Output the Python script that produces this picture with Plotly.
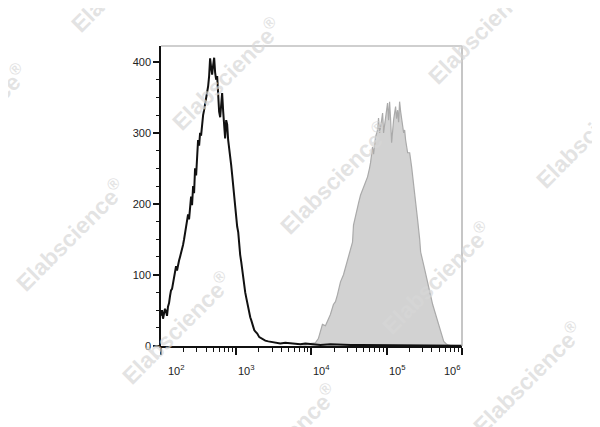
import plotly.graph_objects as go

# ---- data (x given as log10 of fluorescence intensity) ----
black_log = [2.000, 2.013, 2.027, 2.040, 2.053, 2.067, 2.080, 2.093, 2.107, 2.120, 2.133, 2.147, 2.160, 2.173, 2.187,
             2.200, 2.213, 2.227, 2.240, 2.253, 2.267, 2.280, 2.293, 2.307, 2.320, 2.333, 2.347, 2.360, 2.373, 2.387,
             2.400, 2.413, 2.427, 2.440, 2.453, 2.467, 2.480, 2.493, 2.507, 2.520, 2.533, 2.547, 2.560, 2.573, 2.587,
             2.600, 2.613, 2.627, 2.640, 2.653, 2.667, 2.680, 2.693, 2.707, 2.720, 2.733, 2.747, 2.760, 2.773, 2.787,
             2.800, 2.813, 2.827, 2.840, 2.853, 2.867, 2.880, 2.893, 2.907, 2.920, 2.933, 2.947, 2.960, 2.973, 2.987,
             3.000, 3.013, 3.027, 3.040, 3.053, 3.067, 3.080, 3.093, 3.107, 3.120, 3.133, 3.147, 3.160, 3.173, 3.187,
             3.200, 3.213, 3.227, 3.240, 3.253, 3.280, 3.307, 3.333, 3.360, 3.387, 3.427, 3.467, 3.520, 3.587, 3.653,
             3.720, 3.787, 3.853, 3.920, 3.987, 4.053, 4.120, 4.253, 4.387, 4.520, 4.653, 4.787, 4.920, 5.187, 5.500,
             6.000]
black_counts = [42, 50, 38, 45, 52, 48, 42, 55, 60, 70, 78, 80, 88, 92, 100,
                112, 106, 115, 120, 125, 130, 135, 142, 150, 158, 165, 175, 185, 178, 200,
                210, 198, 225, 215, 250, 240, 275, 290, 282, 300, 296, 318, 325, 332, 340,
                348, 355, 366, 380, 405, 392, 382, 395, 406, 385, 375, 380, 350, 330, 322,
                345, 356, 330, 310, 292, 318, 312, 290, 280, 266, 255, 240, 225, 212, 200,
                188, 168, 160, 140, 128, 118, 105, 96, 88, 75, 68, 60, 52, 45, 40,
                36, 30, 25, 22, 20, 17, 12, 10, 8, 7, 6, 5, 4, 3, 4,
                3, 3, 2, 3, 2, 2, 1, 2, 1, 1, 1, 1, 0, 1, 0,
                0]

gray_log = [3.853, 3.920, 3.987, 4.053, 4.093, 4.120, 4.147, 4.187, 4.213, 4.253, 4.293, 4.320, 4.347, 4.387, 4.427,
            4.453, 4.480, 4.520, 4.547, 4.560, 4.587, 4.627, 4.653, 4.693, 4.720, 4.747, 4.773, 4.787, 4.813, 4.827,
            4.853, 4.880, 4.893, 4.907, 4.920, 4.947, 4.960, 4.987, 5.013, 5.027, 5.040, 5.053, 5.067, 5.093, 5.120,
            5.133, 5.147, 5.160, 5.173, 5.187, 5.200, 5.227, 5.240, 5.253, 5.280, 5.307, 5.333, 5.360, 5.387, 5.413,
            5.440, 5.453, 5.493, 5.520, 5.547, 5.587, 5.613, 5.653, 5.680, 5.720, 5.760, 5.787, 5.813, 5.853]
gray_counts = [2, 1, 3, 4, 10, 22, 30, 28, 34, 44, 58, 62, 72, 90, 100,
               110, 118, 132, 146, 170, 184, 201, 212, 224, 232, 238, 250, 258, 280, 270,
               294, 304, 321, 300, 308, 328, 300, 318, 342, 318, 344, 320, 286, 318, 337,
               320, 332, 315, 344, 330, 322, 300, 304, 290, 272, 272, 252, 229, 205, 177,
               150, 132, 114, 100, 90, 70, 58, 44, 35, 20, 6, 3, 1, 0]

y_ticks = [0, 100, 200, 300, 400]
x_decades = [2, 3, 4, 5, 6]
x_tick_labels = ["10<sup>2</sup>", "10<sup>3</sup>", "10<sup>4</sup>", "10<sup>5</sup>", "10<sup>6</sup>"]

watermark_text = "Elabscience<sup>®</sup>"
# approximate centres of the watermark texts, in page pixels
watermark_pos = [(125, -24), (226, 74), (482, 28), (-28, 120), (590, 132), (334, 178),
                 (70, 235), (436, 278), (176, 328), (527, 378), (282, 440)]

# page geometry of the plot area (body margin of 8 px accounted for)
PX_L, PX_R, PX_T, PX_B = 161, 462, 46, 346

fig = go.Figure()
fig.add_trace(go.Scatter(
    x=[10 ** v for v in gray_log], y=gray_counts, mode="lines",
    line=dict(color="#aaaaaa", width=1.2), fill="tozeroy", fillcolor="#d2d2d2",
    hoverinfo="skip", showlegend=False))
fig.add_trace(go.Scatter(
    x=[10 ** v for v in black_log], y=black_counts, mode="lines",
    line=dict(color="#111111", width=2), hoverinfo="skip", showlegend=False))

minor_x = [10 ** d * k for d in x_decades[:-1] for k in range(2, 10)]

fig.update_xaxes(
    type="log", range=[2, 6.003], showgrid=False, zeroline=False,
    showline=True, linecolor="#111111", linewidth=1.5,
    ticks="outside", ticklen=7, tickwidth=1.5, tickcolor="#111111",
    tickvals=[10 ** d for d in x_decades], ticktext=["" for _ in x_decades],
    minor=dict(tickmode="array", tickvals=minor_x, ticks="outside", ticklen=4,
               tickwidth=1, tickcolor="#111111", showgrid=False),
)
fig.update_yaxes(
    range=[-0.5, 422.5], showgrid=False, zeroline=False,
    showline=True, linecolor="#111111", linewidth=1.5,
    ticks="outside", ticklen=6, tickwidth=1.5, tickcolor="#111111",
    tickvals=y_ticks, ticktext=[str(v) for v in y_ticks],
    tickfont=dict(family="Liberation Sans, Arial", size=11, color="#222222"),
    minor=dict(dtick=25, ticks="outside", ticklen=3, tickwidth=1, tickcolor="#111111", showgrid=False),
)

# light frame on top/right
fig.add_shape(type="line", xref="paper", yref="paper", x0=0, x1=1, y0=1, y1=1,
              line=dict(color="#a0a0a0", width=1.2))
fig.add_shape(type="line", xref="paper", yref="paper", x0=1, x1=1, y0=0, y1=1,
              line=dict(color="#a0a0a0", width=1.2))

# x tick labels
for d, lab in zip(x_decades, x_tick_labels):
    if d == 6:
        anchor, shift = "right", 1
    elif d == 2:
        anchor, shift = "left", 5
    else:
        anchor, shift = "left", 0
    fig.add_annotation(x=d, xref="x", y=0, yref="paper", yshift=-24, xshift=shift,
                       text=lab, showarrow=False, xanchor=anchor, yanchor="middle",
                       font=dict(family="Liberation Sans, Arial", size=11, color="#222222"))

# watermarks
for (px, py) in watermark_pos:
    fig.add_annotation(x=(px - PX_L) / (PX_R - PX_L), y=(PX_B - py) / (PX_B - PX_T),
                       xref="paper", yref="paper",
                       text=watermark_text, showarrow=False, textangle=-45,
                       xanchor="center", yanchor="middle",
                       font=dict(family="Liberation Sans, Arial", size=23, weight="bold",
                                 color="rgba(215,215,215,0.7)"))

W, H = 592, 419
fig.update_layout(
    width=W, height=H,
    margin=dict(l=PX_L - 8, r=W - (PX_R - 8), t=PX_T - 8, b=H - (PX_B - 8)),
    paper_bgcolor="white", plot_bgcolor="white",
    font=dict(family="Liberation Sans, Arial"),
)
fig.write_html("out.html")
